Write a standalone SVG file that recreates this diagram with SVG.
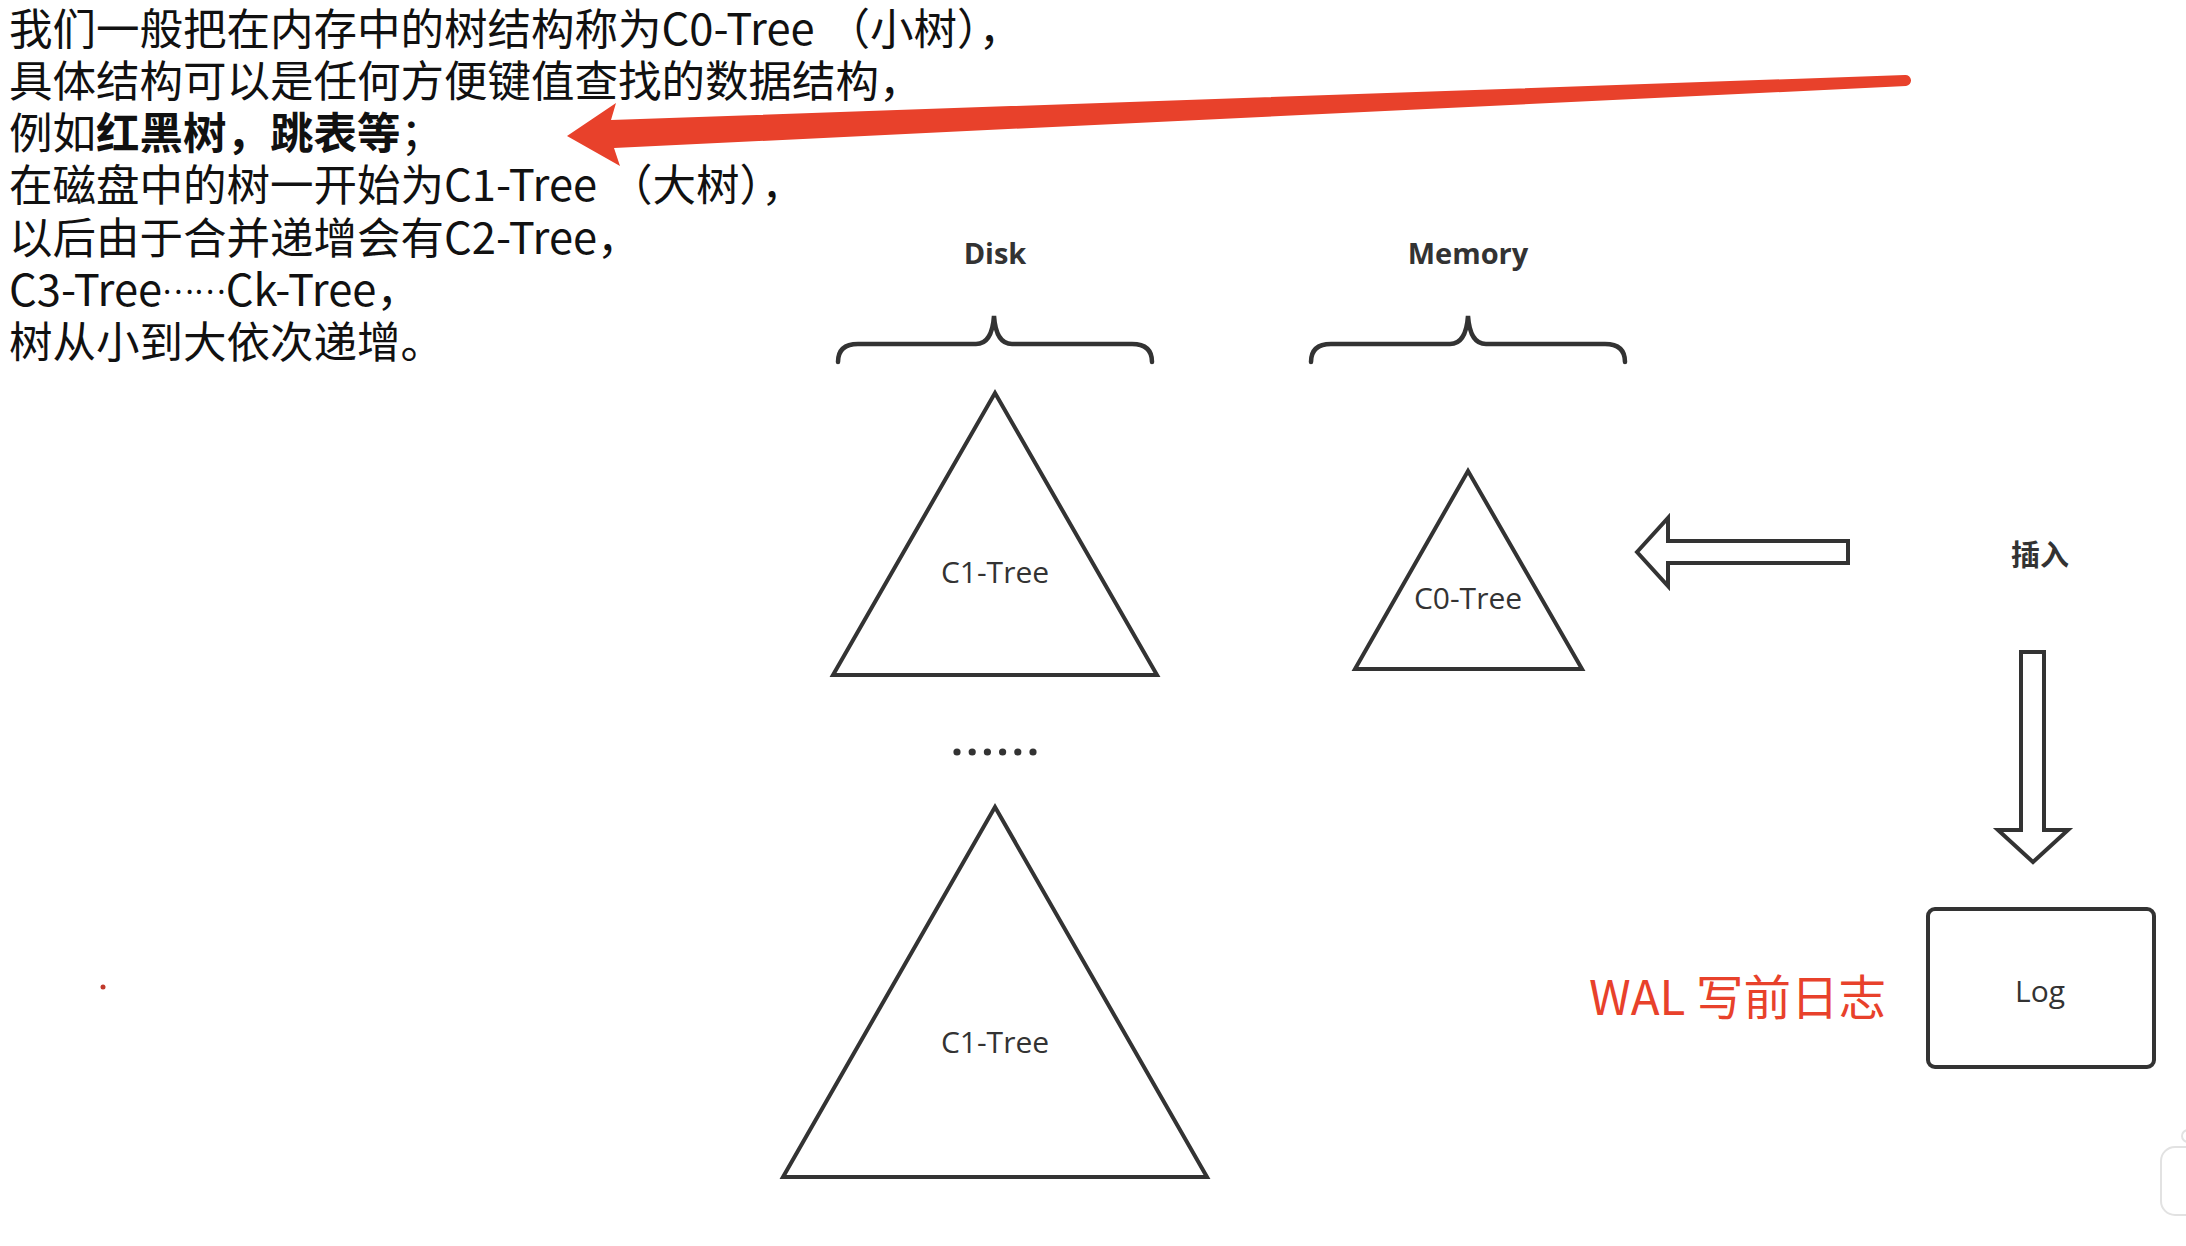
<svg xmlns="http://www.w3.org/2000/svg" width="2186" height="1246" viewBox="0 0 2186 1246">
<style>
.intro{font-family:"Noto Sans CJK SC","Noto Sans",sans-serif;font-size:43.5px;fill:#111}
.b{font-weight:bold}
.lbl{font-family:"Open Sans","Noto Sans","Noto Sans CJK SC",sans-serif;font-size:30px;fill:#333;text-anchor:middle}
.hd{font-family:"Open Sans","Noto Sans CJK SC",sans-serif;font-size:29px;font-weight:bold;fill:#333;text-anchor:middle}
.shape{fill:#fff;stroke:#333;stroke-width:4;stroke-linejoin:miter}
.brace{fill:none;stroke:#333;stroke-width:4.5;stroke-linecap:round}
.red{fill:#e8412b}
</style>
<rect width="2186" height="1246" fill="#fff"/>

<g id="intro-text" class="intro">
<text x="9" y="45">我们一般把在内存中的树结构称为C0-Tree<tspan dx="12">（小树），</tspan></text>
<text x="9" y="97">具体结构可以是任何方便键值查找的数据结构，</text>
<text x="9" y="149">例如<tspan class="b">红黑树，跳表等</tspan>；</text>
<text x="9" y="201">在磁盘中的树一开始为C1-Tree<tspan dx="12">（大树），</tspan></text>
<text x="9" y="254">以后由于合并递增会有C2-Tree，</text>
<text x="9" y="306">C3-Tree<tspan dy="-12" style="font-size:30px">……</tspan><tspan dy="12">Ck-Tree，</tspan></text>
<text x="9" y="358">树从小到大依次递增。</text>
</g>

<g id="connectors">
<path id="red-arrow" class="red" d="M567,136 L616,103 L611,120 L1905,75 A5.5,5.5 0 0 1 1906,86 L614,148 L620,166 Z"/>
<polygon id="insert-arrow" class="shape" points="1637,552 1668,518 1668,541 1848,541 1848,563 1668,563 1668,586"/>
<polygon id="log-arrow" class="shape" points="2021,652 2044,652 2044,830 2068,830 2033,862 1998,830 2021,830"/>
</g>

<g id="disk-label">
<text class="hd" x="995" y="264">Disk</text>
<path class="brace" d="M838,362 Q838,344 858,344 L976,344 Q992,344 994,316 Q996,344 1012,344 L1132,344 Q1152,344 1152,362"/>
</g>

<g id="memory-label">
<text class="hd" x="1468" y="264">Memory</text>
<path class="brace" d="M1311,362 Q1311,344 1331,344 L1450,344 Q1466,344 1468,316 Q1470,344 1486,344 L1605,344 Q1625,344 1625,362"/>
</g>

<g id="c1-tree-top">
<polygon class="shape" points="995,393 1157,675 833,675"/>
<text class="lbl" x="995" y="583">C1-Tree</text>
</g>

<g id="c0-tree">
<polygon class="shape" points="1468,471 1582,669 1355,669"/>
<text class="lbl" x="1468" y="609">C0-Tree</text>
</g>

<g id="ellipsis" fill="#333">
<circle cx="957" cy="752" r="3.6"/>
<circle cx="972.2" cy="752" r="3.6"/>
<circle cx="987.4" cy="752" r="3.6"/>
<circle cx="1002.6" cy="752" r="3.6"/>
<circle cx="1017.8" cy="752" r="3.6"/>
<circle cx="1033" cy="752" r="3.6"/>
</g>

<g id="c1-tree-bottom">
<polygon class="shape" points="995,807 1207,1177 783,1177"/>
<text class="lbl" x="995" y="1053">C1-Tree</text>
</g>

<g id="insert-label">
<text class="hd" x="2040" y="566" style="font-family:'Noto Sans CJK SC',sans-serif">插入</text>
</g>

<g id="log">
<rect class="shape" x="1928" y="909" width="226" height="158" rx="7"/>
<text class="lbl" x="2040" y="1002">Log</text>
</g>

<g id="wal-label">
<text x="1589" y="1015" style="font-family:'Noto Sans CJK SC','Noto Sans',sans-serif;font-size:47.5px;fill:#e8412b">WAL 写前日志</text>
</g>

<circle cx="103" cy="987" r="2.5" fill="#c0392b"/>

<g id="corner-widget">
<rect x="2161" y="1147" width="60" height="68" rx="14" fill="#fff" stroke="#e2e2e2" stroke-width="2"/>
<circle cx="2188" cy="1136" r="6" fill="#fff" stroke="#e2e2e2" stroke-width="2"/>
</g>
</svg>
